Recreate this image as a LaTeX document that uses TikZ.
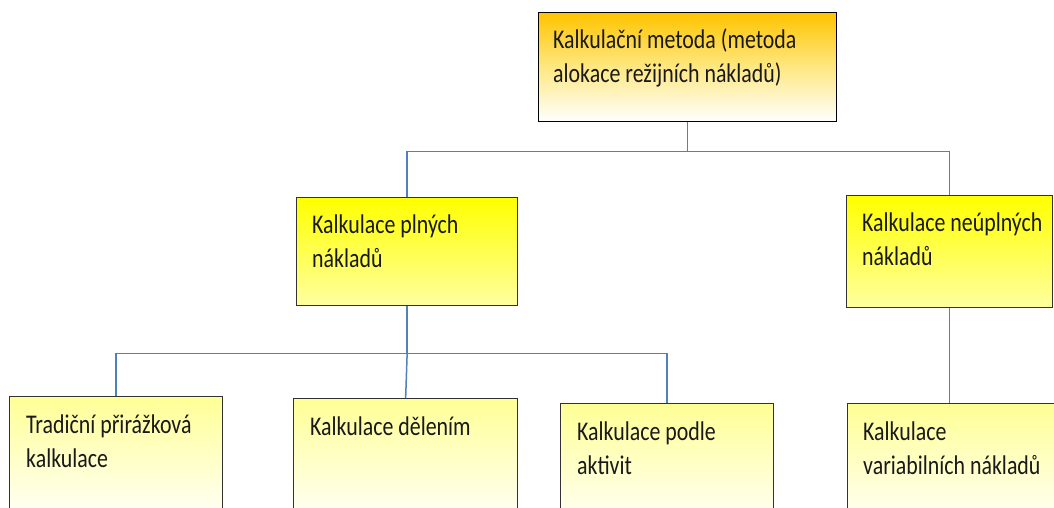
\documentclass[tikz,border=0pt]{standalone}
\usepackage{fontspec}
\setmainfont{Carlito}[FakeStretch=0.81]
\usetikzlibrary{calc}
\newcommand\mytightspace{\setlength{\spaceskip}{5pt plus 1pt minus 1pt}}
\definecolor{conncol}{RGB}{79,129,189}
\definecolor{orangetop}{RGB}{255,196,0}
\definecolor{yellowtop}{RGB}{255,255,0}
\definecolor{yellowbot}{RGB}{255,255,160}
\definecolor{paleyellow}{RGB}{255,255,150}
\definecolor{bordercol}{RGB}{50,50,50}
\definecolor{txtcol}{RGB}{25,25,25}
\tikzset{
  box/.style={draw=bordercol, line width=1.3pt, rectangle, inner sep=0pt, anchor=north west},
  rootbox/.style={box, draw=black, top color=orangetop, bottom color=white, middle color={rgb,255:red,255;green,232;blue,130}},
  midbox/.style={box, top color=yellowtop, bottom color=yellowbot},
  leafbox/.style={box, top color=paleyellow, bottom color=white},
  txt/.style={anchor=base west, inner sep=0pt, text width=#1, align=left, text=txtcol, font=\fontsize{27}{34}\selectfont, execute at begin node=\mytightspace},
  conn/.style={draw=conncol, line width=1.5pt}
}
\begin{document}
\begin{tikzpicture}[x=1pt, y=-1pt]
\useasboundingbox (0,0) rectangle (1054,507);
\clip (0,0) rectangle (1054,507);
% boxes
\node[rootbox, minimum width=298pt, minimum height=109pt] (root) at (538,12) {};
\node[midbox, minimum width=221pt, minimum height=108pt] (full) at (296,197) {};
\node[midbox, minimum width=206pt, minimum height=112pt] (part) at (846,195) {};
\node[leafbox, minimum width=213pt, minimum height=130pt] (trad) at (9,396) {};
\node[leafbox, minimum width=224pt, minimum height=130pt] (div) at (293,398) {};
\node[leafbox, minimum width=213pt, minimum height=130pt] (abc) at (560,403) {};
\node[leafbox, minimum width=209pt, minimum height=130pt] (var) at (847,403) {};
% texts
\node[txt=280pt] (roott) at ($(root.north west)+(15,36)$) {Kalkulační metoda (metoda\\alokace režijních nákladů)};
\node[txt=200pt] (fullt) at ($(full.north west)+(16,36)$) {Kalkulace plných\\nákladů};
\node[txt=200pt] (partt) at ($(part.north west)+(16,36)$) {Kalkulace neúplných\\nákladů};
\node[txt=200pt] (tradt) at ($(trad.north west)+(17,37)$) {Tradiční přirážková\\kalkulace};
\node[txt=200pt] (divt) at ($(div.north west)+(17,37)$) {Kalkulace dělením};
\node[txt=200pt] (abct) at ($(abc.north west)+(17,37)$) {Kalkulace podle\\aktivit};
\node[txt=200pt] (vart) at ($(var.north west)+(16,37)$) {Kalkulace\\variabilních nákladů};
% connectors
\coordinate (j1) at ($(root.south)+(0,29)$);
\coordinate (j2) at ($(full.south)+(0,47)$);
\draw[conn] (root.south) -- (j1);
\draw[conn] (full.north) |- (part.north |- j1) -- (part.north);
\draw[conn] (full.south) -- (j2);
\draw[conn] (div.north) -- (j2);
\draw[conn] (trad.north) |- (abc.north |- j2) -- (abc.north);
\draw[conn] (part.south) -- (part.south |- var.north);
\end{tikzpicture}
\end{document}
